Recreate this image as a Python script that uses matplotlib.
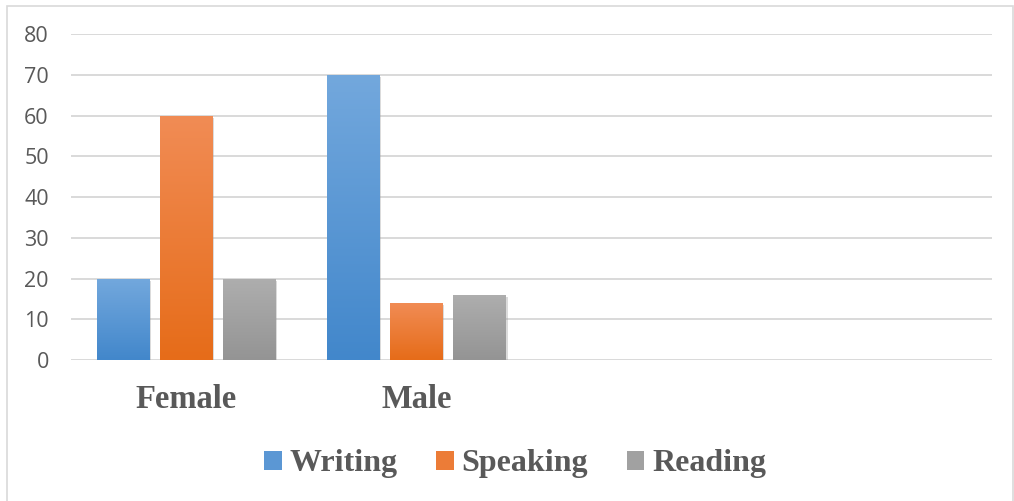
import matplotlib.pyplot as plt
import matplotlib.patheffects as pe
from matplotlib.colors import LinearSegmentedColormap
from matplotlib.patches import Patch, Rectangle
import numpy as np

categories = ['Female', 'Male', '', '']
series = ['Writing', 'Speaking', 'Reading']
writing = [20, 70, None, None]
speaking = [60, 14, None, None]
reading = [20, 16, None, None]
y_ticks = [0, 10, 20, 30, 40, 50, 60, 70, 80]

# top / bottom colours of each bar gradient
gradients = {
    'Writing': ('#73a8dd', '#4287cb'),
    'Speaking': ('#f18c55', '#e66c19'),
    'Reading': ('#aeaeae', '#949494'),
}
legend_colors = ['#5b97d4', '#ec7c37', '#a1a1a1']
text_grey = '#595959'
grid_grey = '#d9d9d9'


def gradient_bars(ax, xs, values, width, top, bottom, zorder=3):
    cmap = LinearSegmentedColormap.from_list('g', [bottom, top])
    grad = np.linspace(0, 1, 256).reshape(-1, 1)
    for x, v in zip(xs, values):
        if v is None:
            continue
        bar = ax.bar(x, v, width, color=bottom, zorder=zorder, linewidth=0)[0]
        bar.set_path_effects([pe.SimplePatchShadow(offset=(1.5, -1.5), shadow_rgbFace='#9a9a9a', alpha=0.35),
                              pe.Normal()])
        img = ax.imshow(grad, cmap=cmap, origin='lower', aspect='auto',
                        extent=(x - width / 2, x + width / 2, 0, v), zorder=zorder + 0.1,
                        interpolation='bicubic')
        img.set_clip_path(bar)


fig = plt.figure(figsize=(10.14, 5.01), dpi=100)
ax = fig.add_axes([0.0700, 0.2814, 0.9083, 0.6507])

x = np.arange(len(categories))
width = 0.226
step = 0.274
for i, (name, vals) in enumerate(zip(series, [writing, speaking, reading])):
    top, bottom = gradients[name]
    gradient_bars(ax, x + (i - 1) * step, vals, width, top, bottom)

ax.set_xlim(-0.5, len(categories) - 0.5)
ax.set_ylim(0, 80)
ax.set_yticks(y_ticks)
ax.set_xticks(x)
ax.set_xticklabels(categories, family='Liberation Serif', fontweight='bold', fontsize=23.5, color=text_grey)
ax.tick_params(axis='y', length=0, pad=16, labelsize=15.5, labelcolor=text_grey)
ax.tick_params(axis='x', length=0, pad=17)
for lbl in ax.get_yticklabels():
    lbl.set_family('Open Sans')
ax.grid(axis='y', color=grid_grey, linewidth=1.4, zorder=0)
ax.set_axisbelow(True)
for s in ax.spines.values():
    s.set_visible(False)

handles = [Patch(facecolor=c, edgecolor='none') for c in legend_colors]
fig.legend(handles, series, loc='center', bbox_to_anchor=(0.508, 0.074), ncol=3, frameon=False,
           prop={'family': 'Liberation Serif', 'weight': 'bold', 'size': 23},
           labelcolor=text_grey, handlelength=0.55, handleheight=0.55,
           handletextpad=0.25, columnspacing=1.2)

# thin outer frame of the chart area
fig.patches.append(Rectangle((7 / 1014, -0.1), 1006 / 1014, 1.1 - 6 / 501, transform=fig.transFigure,
                             fill=False, edgecolor=grid_grey, linewidth=1.2))

fig.savefig('out.png', dpi=100)
